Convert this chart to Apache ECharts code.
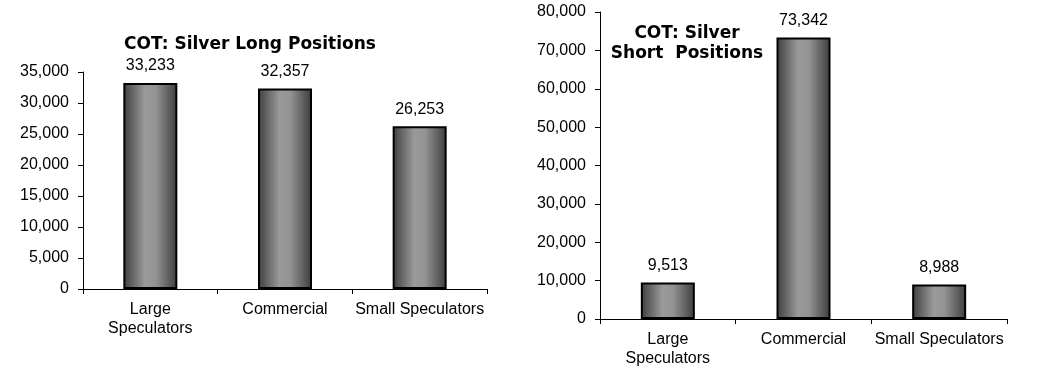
<!DOCTYPE html>
<html>
<head>
<meta charset="utf-8">
<script src="https://cdn.jsdelivr.net/npm/echarts@6/dist/echarts.min.js"></script>
<style>
html,body{margin:0;padding:0;background:#fff;}
#c{width:1050px;height:381px;}
</style>
</head>
<body>
<div id="c"></div>
<script>
const categories = ['Large\nSpeculators', 'Commercial', 'Small Speculators'];
const longValues = [33233, 32357, 26253];
const shortValues = [9513, 73342, 8988];
const longTicks = { min: 0, max: 35000, interval: 5000 };
const shortTicks = { min: 0, max: 80000, interval: 10000 };
const longTitle = 'COT: Silver Long Positions';
const shortTitle = 'COT: Silver\nShort  Positions';

const fmt = v => Number(v).toLocaleString('en-US');
const font = 'Liberation Sans, Arial, sans-serif';
const barColor = {
  type: 'linear', x: 0, y: 0, x2: 1, y2: 0,
  colorStops: [
    { offset: 0, color: '#3e3e3e' },
    { offset: 0.4, color: '#9a9a9a' },
    { offset: 0.6, color: '#939393' },
    { offset: 1, color: '#3c3c3c' }
  ]
};

function xAxis(gridIndex) {
  return {
    type: 'category', gridIndex, data: categories,
    axisLine: { show: true, lineStyle: { color: '#000', width: 1 } },
    axisTick: { show: true, length: 5, interval: 0, lineStyle: { color: '#000' } },
    axisLabel: { interval: 0, color: '#000', fontFamily: font, fontSize: 16, lineHeight: 19, margin: 11 },
    splitLine: { show: false }
  };
}
function yAxis(gridIndex, t) {
  return {
    type: 'value', gridIndex, min: t.min, max: t.max, interval: t.interval,
    axisLine: { show: true, lineStyle: { color: '#000', width: 1 } },
    axisTick: { show: true, length: 5, lineStyle: { color: '#000' } },
    axisLabel: { color: '#000', fontFamily: font, fontSize: 16, margin: 14, formatter: fmt },
    splitLine: { show: false }
  };
}
function series(i, data) {
  return {
    type: 'bar', xAxisIndex: i, yAxisIndex: i, data,
    barWidth: 54,
    itemStyle: { color: barColor, borderColor: '#000', borderWidth: 2 },
    label: { show: true, position: 'top', distance: 9, color: '#000', fontFamily: font, fontSize: 16, formatter: p => fmt(p.value) },
    animation: false
  };
}

const titleStyle = { fontFamily: 'DejaVu Sans, Verdana, sans-serif', fontWeight: 'bold', fontSize: 17, lineHeight: 20, color: '#000', align: 'center' };
const chart = echarts.init(document.getElementById('c'), null, { renderer: 'canvas' });
chart.setOption({
  animation: false,
  backgroundColor: '#fff',
  title: [
    { text: longTitle, left: 250, top: 35, padding: 0, textAlign: 'center', textStyle: titleStyle },
    { text: shortTitle, left: 687, top: 24, padding: 0, textAlign: 'center', textStyle: titleStyle }
  ],
  grid: [
    { left: 83, right: 563, top: 72, bottom: 92, containLabel: false },
    { left: 600, right: 43, top: 12, bottom: 62, containLabel: false }
  ],
  xAxis: [xAxis(0), xAxis(1)],
  yAxis: [yAxis(0, longTicks), yAxis(1, shortTicks)],
  series: [series(0, longValues), series(1, shortValues)]
});
</script>
</body>
</html>
